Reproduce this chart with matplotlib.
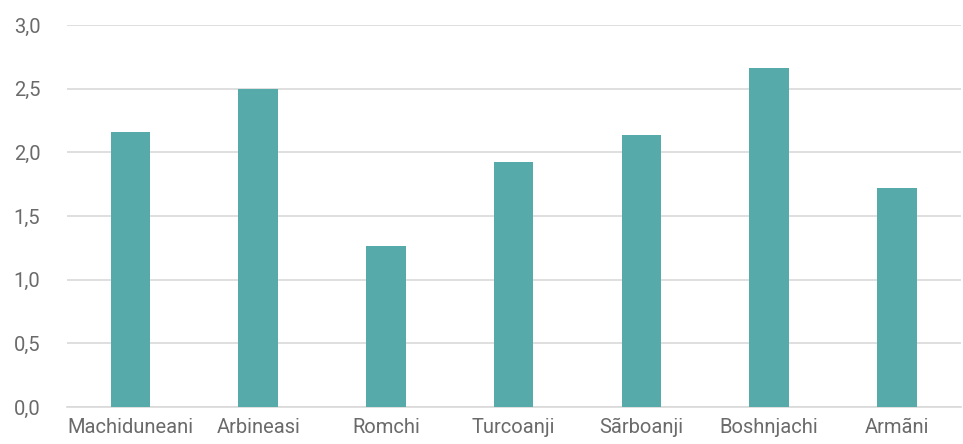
import matplotlib.pyplot as plt
from matplotlib.ticker import FuncFormatter

# values
groups = ['Machiduneani', 'Arbineasi', 'Romchi', 'Turcoanji', 'Sãrboanji', 'Boshnjachi', 'Armãni']
scores = [2.16, 2.50, 1.265, 1.925, 2.14, 2.66, 1.72]

plt.rcParams['font.family'] = ['Roboto', 'DejaVu Sans']

fig = plt.figure(figsize=(9.63, 4.44), dpi=100)
ax = fig.add_axes([0.0693, 0.0833, 0.9282, 0.8604])

x = range(len(groups))
ax.bar(x, scores, width=0.31, color='#56AAA9', zorder=3)

ax.set_xlim(-0.5, len(groups) - 0.5)
ax.set_ylim(0, 3.0)
ax.set_yticks([0, 0.5, 1.0, 1.5, 2.0, 2.5, 3.0])
ax.yaxis.set_major_formatter(FuncFormatter(lambda v, p: f'{v:.1f}'.replace('.', ',')))
ax.set_xticks(list(x))
ax.set_xticklabels(groups)

ax.grid(axis='y', color='#D9D9D9', linewidth=1.2, zorder=0)
for s in ['top', 'right', 'left']:
    ax.spines[s].set_visible(False)
ax.spines['bottom'].set_color('#D9D9D9')
ax.spines['bottom'].set_linewidth(1.2)

ax.tick_params(axis='both', length=0, labelsize=14.5, labelcolor='#6a6a6a')
ax.tick_params(axis='x', pad=8)
ax.tick_params(axis='y', pad=19)

fig.savefig('out.png', dpi=100)
